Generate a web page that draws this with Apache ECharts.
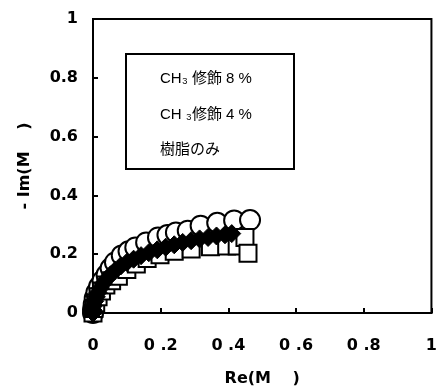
<!DOCTYPE html>
<html>
<head>
<meta charset="utf-8">
<script src="https://cdn.jsdelivr.net/npm/echarts@6/dist/echarts.min.js"></script>
<style>html,body{margin:0;padding:0;background:#fff;}#c{width:440px;height:392px;}</style>
</head>
<body>
<div id="c"></div>
<script>
var seriesNames = ['CH₃ 修飾 8 %', 'CH ₃修飾 4 %', '樹脂のみ'];
var circle8 = [[0,0],[0,0.012],[0.002,0.03],[0.005,0.05],[0.01,0.07],[0.018,0.09],[0.028,0.11],[0.04,0.13],[0.052,0.152],[0.065,0.172],[0.085,0.196],[0.105,0.21],[0.125,0.223],[0.157,0.24],[0.192,0.257],[0.22,0.265],[0.245,0.274],[0.28,0.28],[0.318,0.297],[0.367,0.307],[0.417,0.315],[0.464,0.316]];
var diamond4 = [[0,0],[0,0.01],[0.002,0.025],[0.005,0.04],[0.01,0.055],[0.015,0.07],[0.022,0.085],[0.03,0.1],[0.04,0.115],[0.052,0.13],[0.066,0.145],[0.082,0.16],[0.1,0.172],[0.12,0.183],[0.142,0.195],[0.165,0.205],[0.19,0.215],[0.215,0.224],[0.24,0.232],[0.265,0.24],[0.29,0.246],[0.315,0.252],[0.34,0.257],[0.365,0.262],[0.39,0.266],[0.41,0.27]];
var squareResin = [[0,0],[0.003,0.015],[0.008,0.035],[0.015,0.055],[0.025,0.075],[0.038,0.095],[0.055,0.11],[0.075,0.125],[0.1,0.148],[0.128,0.167],[0.16,0.185],[0.198,0.198],[0.24,0.21],[0.29,0.218],[0.347,0.225],[0.395,0.228],[0.426,0.228],[0.449,0.257],[0.458,0.203]];
var xTickLabels = ['0', '0 .2', '0 .4', '0 .6', '0 .8', '1'];
var yTickLabels = ['0', '0.2', '0.4', '0.6', '0.8', '1'];

var chart = echarts.init(document.getElementById('c'));
var labelFont = {color:'#000', fontFamily:'DejaVu Sans, Liberation Sans, Arial, sans-serif', fontWeight:'bold', fontSize:16};
function tickIndex(v){ return Math.round(v / 0.2); }
chart.setOption({
  animation:false,
  backgroundColor:'#fff',
  grid:{left:93, top:19, right:3, bottom:76, show:true, borderColor:'#000', borderWidth:2, backgroundColor:'transparent'},
  xAxis:{type:'value', min:0, max:1, interval:0.2,
    name:'Re(M　 )', nameLocation:'middle', nameGap:58,
    nameTextStyle:labelFont,
    axisLine:{lineStyle:{color:'#000', width:2}},
    axisTick:{inside:true, length:5, lineStyle:{color:'#000', width:2}},
    axisLabel:Object.assign({margin:25, formatter:function(v){return xTickLabels[tickIndex(v)];}}, labelFont),
    splitLine:{show:false}},
  yAxis:{type:'value', min:0, max:1, interval:0.2,
    name:'- Im(M　 )', nameLocation:'middle', nameGap:60, nameRotate:90,
    nameTextStyle:labelFont,
    axisLine:{lineStyle:{color:'#000', width:2}},
    axisTick:{inside:true, length:5, lineStyle:{color:'#000', width:2}},
    axisLabel:Object.assign({margin:15, formatter:function(v){return yTickLabels[tickIndex(v)];}}, labelFont),
    splitLine:{show:false}},
  legend:{orient:'vertical', left:150, top:66, icon:'none', itemWidth:0, itemHeight:16, itemGap:20,
    data:seriesNames,
    textStyle:{color:'#000', fontFamily:'Liberation Sans, Arial, "Noto Sans CJK JP", sans-serif', fontSize:15}},
  graphic:[{type:'rect', left:125, top:53, shape:{width:168, height:115}, style:{fill:'transparent', stroke:'#000', lineWidth:2}, z:100}],
  series:[
    {name:seriesNames[0], type:'scatter', data:circle8, symbol:'circle', symbolSize:20, clip:false,
      itemStyle:{color:'#fff', borderColor:'#000', borderWidth:2, opacity:1}},
    {name:seriesNames[2], type:'scatter', data:squareResin, symbol:'rect', symbolSize:17, clip:false,
      itemStyle:{color:'#fff', borderColor:'#000', borderWidth:2, opacity:1}},
    {name:seriesNames[1], type:'scatter', data:diamond4, symbol:'diamond', symbolSize:18, clip:false,
      itemStyle:{color:'#000', borderColor:'#000', borderWidth:1, opacity:1}}
  ]
});
</script>
</body>
</html>
